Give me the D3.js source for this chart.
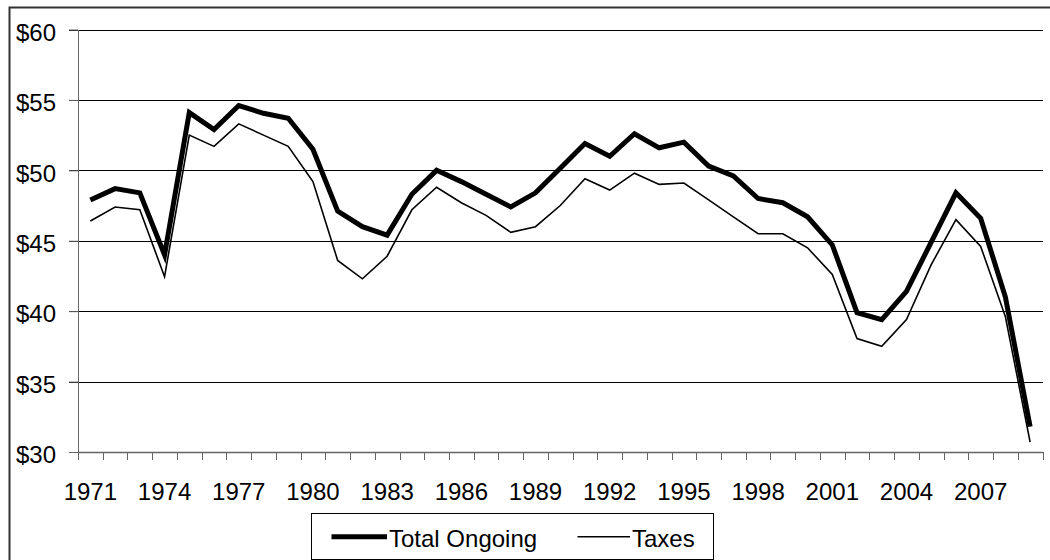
<!DOCTYPE html>
<html>
<head>
<meta charset="utf-8">
<script src="https://cdn.jsdelivr.net/npm/d3@7"></script>
<style>
  html, body { margin: 0; padding: 0; background: #fff; }
  svg { display: block; font-family: "Liberation Sans", Arial, sans-serif; }
</style>
</head>
<body>
<svg id="chart" width="1050" height="560"></svg>
<script>
const years = [1971,1972,1973,1974,1975,1976,1977,1978,1979,1980,
  1981,1982,1983,1984,1985,1986,1987,1988,1989,1990,
  1991,1992,1993,1994,1995,1996,1997,1998,1999,2000,
  2001,2002,2003,2004,2005,2006,2007,2008,2009];
const totalOngoing = [47.9,48.7,48.4,44.0,54.1,52.9,54.6,54.05,53.7,51.5,
  47.1,46.0,45.4,48.3,50.0,49.2,48.3,47.4,48.4,50.15,
  51.9,51.0,52.6,51.6,52.0,50.3,49.6,48.0,47.7,46.7,
  44.7,39.9,39.4,41.4,44.9,48.4,46.6,41.0,31.8];
const taxes = [46.4,47.4,47.2,42.45,52.5,51.7,53.3,52.5,51.7,49.2,
  43.6,42.3,43.9,47.2,48.8,47.7,46.8,45.6,46.0,47.5,
  49.4,48.6,49.8,49.0,49.1,47.9,46.7,45.5,45.5,44.5,
  42.6,38.05,37.5,39.4,43.3,46.5,44.6,39.6,30.7];
const yTicks = [30,35,40,45,50,55,60];
const xLabelYears = [1971,1974,1977,1980,1983,1986,1989,1992,1995,1998,2001,2004,2007];
const seriesNames = ["Total Ongoing","Taxes"];

(function () {
const svg = d3.select("#chart");
const pLeft = 78, pRight = 1042.5, pTop = 29.5, pBottom = 452;
const FS = 24;

// outer frame
svg.append("rect").attr("x", 9.5).attr("y", 7.5).attr("width", 1050).attr("height", 560)
  .attr("fill", "none").attr("stroke", "#333").attr("stroke-width", 2);

const x = d3.scaleBand().domain(years).range([pLeft, pRight]).padding(0);
const xIdx = d3.scaleLinear().domain([0, years.length]).range([pLeft, pRight]);
const y = d3.scaleLinear().domain([30, 60]).range([pBottom, pTop]);

// gridlines
svg.append("g").attr("transform", `translate(${pLeft - 9},0)`)
  .call(d3.axisRight(y).tickValues(yTicks).tickSize(pRight - pLeft + 9).tickFormat(""))
  .call(g => g.select(".domain").remove())
  .call(g => g.selectAll("line").attr("stroke", "#000").attr("stroke-width", 1).attr("shape-rendering", "crispEdges"));

// y axis
svg.append("g").attr("transform", `translate(${pLeft},0)`)
  .call(d3.axisLeft(y).tickValues(yTicks).tickSizeInner(9).tickSizeOuter(0).tickPadding(13).tickFormat(d => "$" + d))
  .call(g => g.select(".domain").attr("stroke", "#666").attr("shape-rendering", "crispEdges"))
  .call(g => g.selectAll("line").attr("stroke", "#666"))
  .call(g => g.selectAll("text").attr("font-size", FS).attr("font-family", "Liberation Sans, Arial, sans-serif").attr("fill", "#000").attr("dy", "0.45em"));

// x axis ticks (between categories)
svg.append("g").attr("transform", `translate(0,${pBottom})`)
  .call(d3.axisBottom(xIdx).tickValues(d3.range(0, years.length + 1)).tickSizeInner(8).tickSizeOuter(0).tickFormat(""))
  .call(g => g.select(".domain").attr("stroke", "#666").attr("stroke-width", 1.5))
  .call(g => g.selectAll("line").attr("stroke", "#666").attr("shape-rendering", "crispEdges"));

// x labels
svg.append("g").attr("transform", `translate(0,${pBottom})`)
  .call(d3.axisBottom(x).tickValues(xLabelYears).tickSize(0).tickPadding(0))
  .call(g => g.select(".domain").remove())
  .call(g => g.selectAll("text").attr("font-size", FS).attr("font-family", "Liberation Sans, Arial, sans-serif").attr("fill", "#000").attr("y", 48).attr("dy", 0));

const cx = d => x(d) + x.bandwidth() / 2;
const line = d3.line().x((d, i) => cx(years[i])).y(d => y(d));

svg.append("path").datum(taxes).attr("d", line)
  .attr("fill", "none").attr("stroke", "#000").attr("stroke-width", 1.6).attr("stroke-linejoin", "miter");
svg.append("path").datum(totalOngoing).attr("d", line)
  .attr("fill", "none").attr("stroke", "#000").attr("stroke-width", 5).attr("stroke-linejoin", "miter");

// legend
const lg = svg.append("g");
lg.append("rect").attr("x", 311.5).attr("y", 513.5).attr("width", 402).attr("height", 46)
  .attr("fill", "#fff").attr("stroke", "#000").attr("stroke-width", 1);
const legendItems = [
  {name: seriesNames[0], x1: 331.5, x2: 387, tx: 389, w: 5},
  {name: seriesNames[1], x1: 577.5, x2: 630, tx: 632, w: 1.6}
];
legendItems.forEach(it => {
  lg.append("line").attr("x1", it.x1).attr("x2", it.x2).attr("y1", 536.7).attr("y2", 536.7)
    .attr("stroke", "#000").attr("stroke-width", it.w);
  lg.append("text").attr("x", it.tx).attr("y", 547).attr("font-size", FS).attr("fill", "#000").text(it.name);
});
})();
</script>
</body>
</html>
